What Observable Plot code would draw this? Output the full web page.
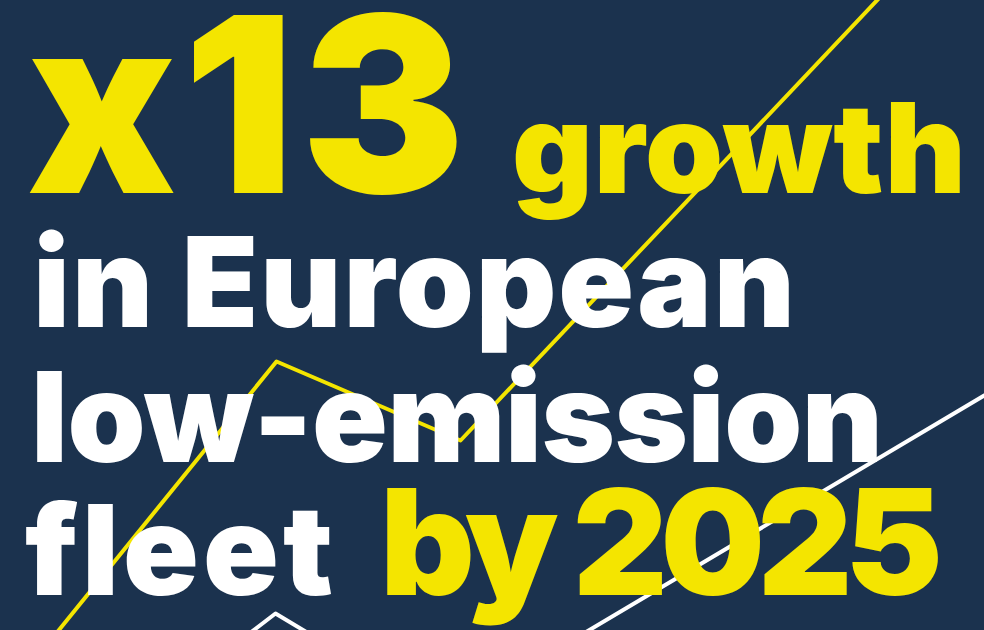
<!DOCTYPE html>
<html>
<head>
<meta charset="utf-8">
<script src="https://cdn.jsdelivr.net/npm/d3@7"></script>
<script src="https://cdn.jsdelivr.net/npm/@observablehq/plot@0.6"></script>
<style>
  html, body { margin: 0; padding: 0; background: #1b324e; }
  #wrap { position: relative; width: 984px; height: 630px; overflow: hidden; background: #1b324e; }
  #chart, #words { position: absolute; left: 0; top: 0; }
  #words text { font-family: Inter, "Noto Sans", sans-serif; font-weight: 900; }
</style>
</head>
<body>
<div id="wrap">
  <div id="chart"></div>
  <svg id="words" width="984" height="630"></svg>
</div>
<script>
// Decorative trend lines (x along the width, y measured upward)
const yellowX = [20, 276, 460, 900];
const yellowY = [-47, 269, 190, 655];
const whiteX = [190, 275, 445, 1004];
const whiteY = [-48, 17, -85, 247];

// Headline pieces
const headTexts = ["x13", "growth", "in European", "low-emission", "fleet", "by 2025"];
const headColors = ["#f4e500", "#f4e500", "#ffffff", "#ffffff", "#ffffff", "#f4e500"];

const yellow = yellowX.map((x, i) => ({x, y: yellowY[i]}));
const white = whiteX.map((x, i) => ({x, y: whiteY[i]}));

const plot = Plot.plot({
  width: 984,
  height: 630,
  margin: 0,
  x: {domain: [0, 984], axis: null},
  y: {domain: [0, 630], axis: null},
  style: {background: "transparent", overflow: "hidden"},
  marks: [
    Plot.line(yellow, {x: "x", y: "y", stroke: "#f4e500", strokeWidth: 4, clip: true}),
    Plot.line(white, {x: "x", y: "y", stroke: "#ffffff", strokeWidth: 4, clip: true})
  ]
});
document.getElementById("chart").appendChild(plot);

// Headline layout
const layout = [
  {x: 27, y: 193, size: 245, w: 438},
  {x: 512, y: 193, size: 125, w: 454},
  {x: 33, y: 327, size: 125, w: 762},
  {x: 31, y: 462, size: 125, w: 852},
  {x: 25, y: 595, size: 125, w: 308},
  {x: 380, y: 595, size: 147, w: 563}
];
const svg = d3.select("#words");
svg.selectAll("text")
  .data(headTexts)
  .join("text")
  .attr("x", (d, i) => layout[i].x)
  .attr("y", (d, i) => layout[i].y)
  .attr("font-size", (d, i) => layout[i].size)
  .attr("textLength", (d, i) => layout[i].w)
  .attr("lengthAdjust", "spacing")
  .attr("fill", (d, i) => headColors[i])
  .text(d => d);
</script>
</body>
</html>
